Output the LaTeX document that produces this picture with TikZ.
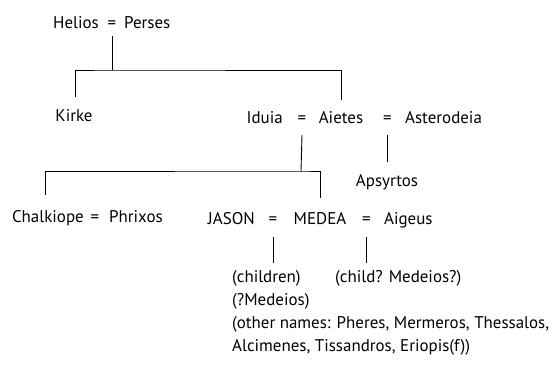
\documentclass[tikz,border=0pt]{standalone}
\usepackage{fontspec}
\setmainfont{PT Sans}
\begin{document}
\begin{tikzpicture}[x=1bp,y=-1bp,
  every node/.style={inner sep=0pt, text height=12bp, text depth=4bp, font=\fontsize{17}{20}\selectfont},
  nm/.style={anchor=base west},
  nl/.style={anchor=base east},
  nc/.style={anchor=base},
  eq/.style={anchor=base},
  line/.style={line width=0.9bp, black}]
\useasboundingbox (0,0) rectangle (553,368);
% generation 1
\node[nl] (helios) at (99,28) {Helios};
\node[eq] (eqhp) at (112,28) {=};
\node[nm] (perses) at (124,28) {Perses};
% generation 2
\node[nc] (kirke) at (74,121) {Kirke};
\node[nl] (iduia) at (283,123) {Iduia};
\node[eq] (eqia) at (302,123) {=};
\node[nc] (aietes) at (341,123) {Aietes};
\node[eq] (eqaa) at (387.5,123) {=};
\node[nm] (asterodeia) at (405,123) {Asterodeia};
\node[nc] (apsyrtos) at (387,186) {Apsyrtos};
% generation 3
\node[nl] (chalkiope) at (84,222) {Chalkiope};
\node[eq] (eqcp) at (95,222) {=};
\node[nm] (phrixos) at (109,222) {Phrixos};
\node[nl] (jason) at (255,224) {JASON};
\node[eq] (eqjm) at (273,224) {=};
\node[nc] (medea) at (320,224) {MEDEA};
\node[eq] (eqma) at (366.5,224) {=};
\node[nm] (aigeus) at (384,224) {Aigeus};
% generation 4
\node[nm] (children) at (232,282) {(children)};
\node[nm] (childq) at (335,282) {(child? Medeios?)};
\node[nm] (medeios) at (232,305) {(?Medeios)};
\node[nm] (other1) at (232,328) {(other names: Pheres, Mermeros, Thessalos,};
\node[nm] (other2) at (232,351) {Alcimenes, Tissandros, Eriopis(f))};
% connectors
\coordinate (j1) at (112,70);
\coordinate (j2) at (301,171);
\draw[line] ([yshift=-8bp]eqhp.base) -- (j1);
\draw[line] ([xshift=1bp,yshift=12bp]kirke.north) |- (j1) -| ([yshift=11bp]aietes.north);
\draw[line] ([yshift=-12bp]eqia.base) -- (j2);
\draw[line] (chalkiope.north -| 45,0) ++(0,-15) |- (j2) -| ([yshift=14bp]medea.north);
\draw[line] ([yshift=-12bp]eqaa.base) -- ([yshift=12bp]eqaa.base |- apsyrtos.north);
\draw[line] ([yshift=-13bp]eqjm.base) -- ([yshift=7bp]eqjm.base |- children.north);
\draw[line] ([yshift=-13bp]eqma.base) -- ([yshift=7bp]eqma.base |- childq.north);
\end{tikzpicture}
\end{document}
